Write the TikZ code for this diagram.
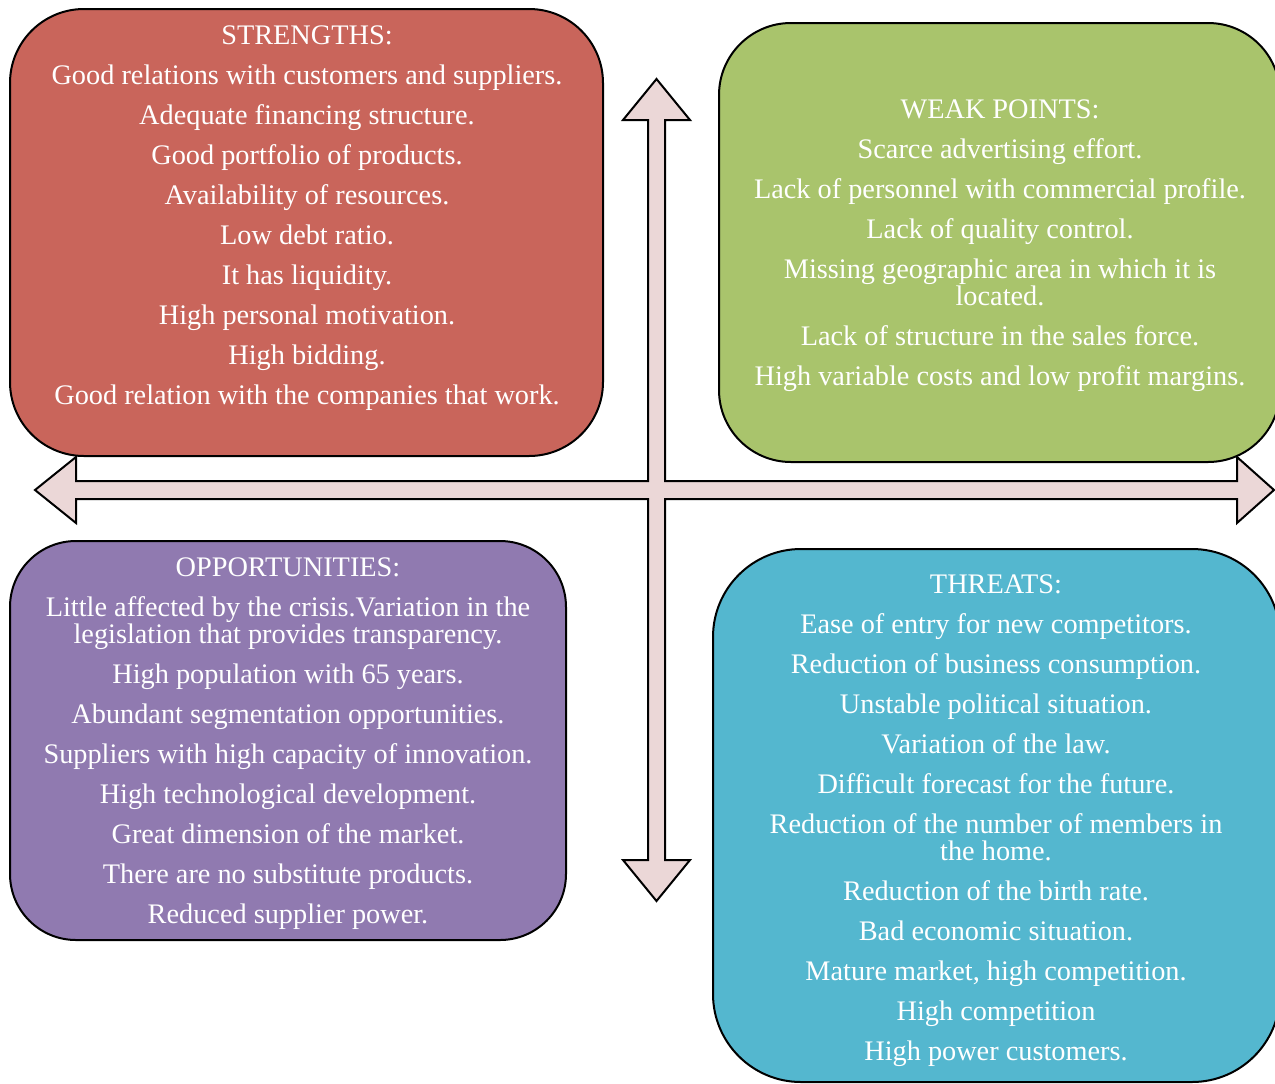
\documentclass[tikz,border=0pt]{standalone}
\usepackage{fontspec}
\setmainfont{Liberation Serif}
\usetikzlibrary{positioning}

\definecolor{strfill}{RGB}{201,101,91}
\definecolor{weakfill}{RGB}{169,196,108}
\definecolor{oppfill}{RGB}{144,122,176}
\definecolor{thrfill}{RGB}{84,183,207}
\definecolor{crossfill}{RGB}{235,215,215}

\begin{document}
\begin{tikzpicture}[
    x=0.5pt, y=-0.5pt,
    font=\fontsize{14.15}{13.5}\selectfont,
    quad/.style={rectangle, rounded corners=#1, draw=black, line width=1pt, inner sep=0pt},
    txt/.style={text=white, align=center, inner sep=0pt},
    cross/.style={draw=black, line width=1pt, fill=crossfill, line join=miter},
  ]
    \useasboundingbox (0,0) rectangle (1275,1083);

    % the two double block arrows, drawn as one outline
    \draw[cross] (656.5,79) -- (690,120) -- (665,120) -- (665,481) -- (1237,481)
      -- (1237,457) -- (1274,490) -- (1237,523) -- (1237,499) -- (665,499)
      -- (665,860) -- (690,860) -- (656.5,901) -- (623,860) -- (648,860)
      -- (648,499) -- (76,499) -- (76,523) -- (35,490) -- (76,457) -- (76,481)
      -- (648,481) -- (648,120) -- (623,120) -- cycle;

    \node[quad=37pt, fill=strfill, minimum width=296.5pt, minimum height=223.5pt] (str) at (306.5,232.5) {};
    \node[quad=36pt, fill=weakfill, minimum width=280.5pt, minimum height=219.5pt] (weak) at (999.5,242.5) {};
    \node[quad=33pt, fill=oppfill, minimum width=278pt, minimum height=199.5pt] (opp) at (288,740.5) {};
    \node[quad=44pt, fill=thrfill, minimum width=283.5pt, minimum height=266.5pt] (thr) at (996.5,815.5) {};

    \node[txt] (strtext) at (307,218.5) {
      STRENGTHS:\\[6.5pt]
      Good relations with customers and suppliers.\\[6.5pt]
      Adequate financing structure.\\[6.5pt]
      Good portfolio of products.\\[6.5pt]
      Availability of resources.\\[6.5pt]
      Low debt ratio.\\[6.5pt]
      It has liquidity.\\[6.5pt]
      High personal motivation.\\[6.5pt]
      High bidding.\\[6.5pt]
      Good relation with the companies that work.
    };

    \node[txt] (weaktext) at (1000,246) {
      WEAK POINTS:\\[6.5pt]
      Scarce advertising effort.\\[6.5pt]
      Lack of personnel with commercial profile.\\[6.5pt]
      Lack of quality control.\\[6.5pt]
      Missing geographic area in which it is\\
      located.\\[6.5pt]
      Lack of structure in the sales force.\\[6.5pt]
      High variable costs and low profit margins.
    };

    \node[txt] (opptext) at (288,743.5) {
      OPPORTUNITIES:\\[6.5pt]
      Little affected by the crisis.Variation in the\\
      legislation that provides transparency.\\[6.5pt]
      High population with 65 years.\\[6.5pt]
      Abundant segmentation opportunities.\\[6.5pt]
      Suppliers with high capacity of innovation.\\[6.5pt]
      High technological development.\\[6.5pt]
      Great dimension of the market.\\[6.5pt]
      There are no substitute products.\\[6.5pt]
      Reduced supplier power.
    };

    \node[txt] (thrtext) at (996,821) {
      THREATS:\\[6.5pt]
      Ease of entry for new competitors.\\[6.5pt]
      Reduction of business consumption.\\[6.5pt]
      Unstable political situation.\\[6.5pt]
      Variation of the law.\\[6.5pt]
      Difficult forecast for the future.\\[6.5pt]
      Reduction of the number of members in\\
      the home.\\[6.5pt]
      Reduction of the birth rate.\\[6.5pt]
      Bad economic situation.\\[6.5pt]
      Mature market, high competition.\\[6.5pt]
      High competition\\[6.5pt]
      High power customers.
    };
  \end{tikzpicture}
\end{document}
